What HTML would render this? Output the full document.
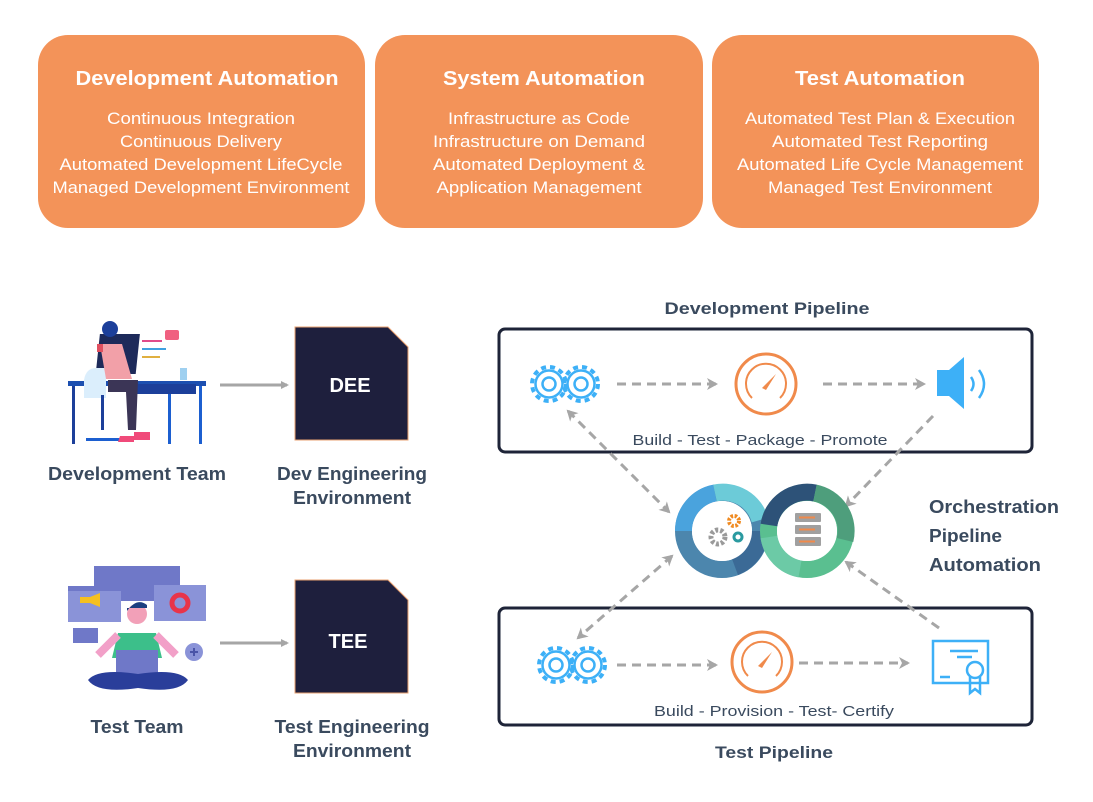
<!DOCTYPE html>
<html><head><meta charset="utf-8"><style>
html,body{margin:0;padding:0;background:#fff;}
svg{display:block;font-family:"Liberation Sans",sans-serif;}
</style></head><body>
<svg width="1093" height="802" viewBox="0 0 1093 802" xmlns="http://www.w3.org/2000/svg">
<defs>
<marker id="ag" markerWidth="8" markerHeight="8" refX="6" refY="4" orient="auto" markerUnits="userSpaceOnUse"><path d="M0,0 L8,4 L0,8 Z" fill="#a6a6a6"/></marker>
<marker id="ags" markerWidth="12" markerHeight="12" refX="9" refY="6" orient="auto-start-reverse" markerUnits="userSpaceOnUse"><path d="M0,0 L11,6 L0,12 L3,6 Z" fill="#a6a6a6"/></marker>
</defs>
<g fill="#F39359">
<rect x="38" y="35" width="327" height="193" rx="30"/>
<rect x="375" y="35" width="328" height="193" rx="30"/>
<rect x="712" y="35" width="327" height="193" rx="30"/>
</g>
<g fill="#fff" text-anchor="middle">
<text x="207" y="85" font-size="20" font-weight="bold" textLength="263" lengthAdjust="spacingAndGlyphs">Development Automation</text>
<text x="544" y="85" font-size="20" font-weight="bold" textLength="202" lengthAdjust="spacingAndGlyphs">System Automation</text>
<text x="880" y="85" font-size="20" font-weight="bold" textLength="170" lengthAdjust="spacingAndGlyphs">Test Automation</text>
<g font-size="17">
<text x="201" y="124" textLength="188" lengthAdjust="spacingAndGlyphs">Continuous Integration</text>
<text x="201" y="147" textLength="162" lengthAdjust="spacingAndGlyphs">Continuous Delivery</text>
<text x="201" y="170" textLength="283" lengthAdjust="spacingAndGlyphs">Automated Development LifeCycle</text>
<text x="201" y="193" textLength="297" lengthAdjust="spacingAndGlyphs">Managed Development Environment</text>
<text x="539" y="124" textLength="182" lengthAdjust="spacingAndGlyphs">Infrastructure as Code</text>
<text x="539" y="147" textLength="212" lengthAdjust="spacingAndGlyphs">Infrastructure on Demand</text>
<text x="539" y="170" textLength="212" lengthAdjust="spacingAndGlyphs">Automated Deployment &amp;</text>
<text x="539" y="193" textLength="205" lengthAdjust="spacingAndGlyphs">Application Management</text>
<text x="880" y="124" textLength="270" lengthAdjust="spacingAndGlyphs">Automated Test Plan &amp; Execution</text>
<text x="880" y="147" textLength="216" lengthAdjust="spacingAndGlyphs">Automated Test Reporting</text>
<text x="880" y="170" textLength="286" lengthAdjust="spacingAndGlyphs">Automated Life Cycle Management</text>
<text x="880" y="193" textLength="224" lengthAdjust="spacingAndGlyphs">Managed Test Environment</text>
</g></g>

<g>
<rect x="68" y="381" width="138" height="5" fill="#1c4fb0"/>
<rect x="72" y="386" width="3" height="58" fill="#1c3f9a"/>
<rect x="168" y="386" width="3" height="58" fill="#1c5fd0"/>
<rect x="199" y="386" width="3" height="58" fill="#1c5fd0"/>
<rect x="136" y="384" width="60" height="10" fill="#1c3f9a"/>
<rect x="135" y="334" width="40" height="40" fill="#1d2a5a" transform="skewX(-6)"/>
<rect x="142" y="340" width="20" height="2" fill="#e04c8a"/><rect x="142" y="348" width="24" height="2" fill="#3fa0e0"/><rect x="142" y="356" width="18" height="2" fill="#e0b040"/>
<rect x="165" y="330" width="14" height="10" rx="2" fill="#f06080"/>
<rect x="180" y="368" width="7" height="12" fill="#9fd0f0"/>
<path d="M84,380 q2,-12 12,-12 h10 v30 h-22z" fill="#dbeefc"/>
<rect x="101" y="395" width="3" height="35" fill="#1c3f9a"/>
<rect x="86" y="438" width="35" height="3" fill="#1c5fd0"/>
<circle cx="110" cy="329" r="8" fill="#1c3f9a"/>
<path d="M100,344 h22 l10,35 h-26z" fill="#f2a0a8"/>
<path d="M108,380 h30 l-2,50 h-8 l-2,-38 h-18z" fill="#3b3556"/>
<path d="M120,436 h14 v6 h-16z" fill="#f04a7a"/>
<path d="M134,432 h16 v8 h-16z" fill="#f04a7a"/>
<path d="M97,344 h6 v8 h-6z" fill="#e05060"/>
</g>
<g>
<rect x="94" y="566" width="86" height="35" fill="#6f78c8"/>
<rect x="68" y="586" width="53" height="36" fill="#8a93d8"/>
<rect x="68" y="586" width="53" height="5" fill="#6f78c8"/>
<path d="M80,597 h10 l10,-4 v14 l-10,-4 h-10z" fill="#f5c020"/>
<rect x="154" y="585" width="52" height="36" fill="#8a93d8"/>
<circle cx="180" cy="603" r="8" fill="none" stroke="#e8344a" stroke-width="5"/>
<rect x="73" y="628" width="25" height="15" fill="#6f78c8"/>
<circle cx="194" cy="652" r="9" fill="#8a93d8"/>
<path d="M190,652 h8 M194,648 v8" stroke="#4a54a8" stroke-width="2"/>
<circle cx="137" cy="614" r="10" fill="#f2a0b8"/>
<path d="M127,611 q10,-14 20,-6 v3 h-20z" fill="#1c3f80"/>
<path d="M118,633 h38 l6,25 h-50z" fill="#3cbf8a"/>
<path d="M98,655 l20,-20 M176,655 l-20,-20" stroke="#f2a0c8" stroke-width="8"/>
<rect x="116" y="650" width="42" height="28" fill="#6f78c8"/>
<path d="M88,680 q10,-12 50,-6 q40,-6 50,6 q-10,14 -50,8 q-40,6 -50,-8z" fill="#2a3e9a"/>
</g>
<g font-weight="bold" fill="#3a4a5e" font-size="18" text-anchor="middle">
<text x="137" y="480" textLength="178" lengthAdjust="spacingAndGlyphs">Development Team</text>
<text x="352" y="480" textLength="150" lengthAdjust="spacingAndGlyphs">Dev Engineering</text>
<text x="352" y="504" textLength="118" lengthAdjust="spacingAndGlyphs">Environment</text>
<text x="137" y="733" textLength="93" lengthAdjust="spacingAndGlyphs">Test Team</text>
<text x="352" y="733" textLength="155" lengthAdjust="spacingAndGlyphs">Test Engineering</text>
<text x="352" y="757" textLength="118" lengthAdjust="spacingAndGlyphs">Environment</text>
</g>
<path d="M295,327 H388 L408,347 V440 H295Z" fill="#1E1F3D" stroke="#e8a070" stroke-width="1"/>
<path d="M295,580 H388 L408,600 V693 H295Z" fill="#1E1F3D" stroke="#e8a070" stroke-width="1"/>
<text x="350" y="392" fill="#fff" font-size="20" font-weight="bold" text-anchor="middle">DEE</text>
<text x="348" y="648" fill="#fff" font-size="20" font-weight="bold" text-anchor="middle">TEE</text>
<g stroke="#a6a6a6" stroke-width="3" marker-end="url(#ag)">
<line x1="220" y1="385" x2="287" y2="385"/>
<line x1="220" y1="643" x2="287" y2="643"/>
</g>

<rect x="499" y="329" width="533" height="123" rx="6" fill="none" stroke="#1e2438" stroke-width="3"/>
<rect x="499" y="608" width="533" height="117" rx="6" fill="none" stroke="#1e2438" stroke-width="3"/>
<text x="767" y="314" font-size="17" font-weight="bold" fill="#3a4a5e" text-anchor="middle" textLength="205" lengthAdjust="spacingAndGlyphs">Development Pipeline</text>
<text x="774" y="758" font-size="17" font-weight="bold" fill="#3a4a5e" text-anchor="middle" textLength="118" lengthAdjust="spacingAndGlyphs">Test Pipeline</text>
<text x="760" y="445" font-size="15" fill="#3a4a5e" text-anchor="middle" textLength="255" lengthAdjust="spacingAndGlyphs">Build - Test - Package - Promote</text>
<text x="774" y="716" font-size="15" fill="#3a4a5e" text-anchor="middle" textLength="240" lengthAdjust="spacingAndGlyphs">Build - Provision - Test- Certify</text>
<g font-size="18" font-weight="bold" fill="#3a4a5e">
<text x="929" y="513" textLength="130" lengthAdjust="spacingAndGlyphs">Orchestration</text>
<text x="929" y="542" textLength="73" lengthAdjust="spacingAndGlyphs">Pipeline</text>
<text x="929" y="571" textLength="112" lengthAdjust="spacingAndGlyphs">Automation</text>
</g>

<g fill="none" stroke="#3db0f7">
<g id="gears">
<circle cx="549" cy="384" r="17" stroke-width="4" stroke-dasharray="5 4"/>
<circle cx="549" cy="384" r="13.5" stroke-width="2.5"/>
<circle cx="549" cy="384" r="6.5" stroke-width="2.5"/>
<circle cx="581" cy="384" r="17" stroke-width="4" stroke-dasharray="5 4"/>
<circle cx="581" cy="384" r="13.5" stroke-width="2.5"/>
<circle cx="581" cy="384" r="6.5" stroke-width="2.5"/>
</g>
<use href="#gears" x="7" y="281"/>
</g>
<g fill="none" stroke="#F08A4B" stroke-width="3">
<circle cx="766" cy="384" r="30"/>
<path d="M752,398 A20,20 0 1 1 780,398" stroke-width="2"/>
<circle cx="762" cy="662" r="30"/>
<path d="M748,676 A20,20 0 1 1 776,676" stroke-width="2"/>
</g>
<path d="M762,388 L776,374 L766,390Z" fill="#F08A4B"/>
<path d="M758,666 L772,652 L762,668Z" fill="#F08A4B"/>
<path d="M937,370 h12 l15,-13 v52 l-15,-13 h-12z" fill="#3db0f7"/>
<path d="M971,377 q5,7 0,14 M979,370 q10,14 0,28" fill="none" stroke="#3db0f7" stroke-width="2.5"/>
<g fill="none" stroke="#3db0f7" stroke-width="2.5">
<rect x="933" y="641" width="55" height="42"/>
<path d="M950,651 h28 M957,657 h15 M940,677 h10"/>
<circle cx="975" cy="670" r="8" fill="#fff"/>
<path d="M970,677 v16 l5,-4 l5,4 v-16"/>
</g>
<g stroke="#a6a6a6" stroke-width="3" stroke-dasharray="9 6" fill="none">
<line x1="617" y1="384" x2="716" y2="384" marker-end="url(#ags)"/>
<line x1="823" y1="384" x2="924" y2="384" marker-end="url(#ags)"/>
<line x1="617" y1="665" x2="716" y2="665" marker-end="url(#ags)"/>
<line x1="799" y1="663" x2="908" y2="663" marker-end="url(#ags)"/>
<line x1="568" y1="411" x2="669" y2="512" marker-start="url(#ags)" marker-end="url(#ags)"/>
<line x1="933" y1="416" x2="846" y2="506" marker-end="url(#ags)"/>
<line x1="672" y1="556" x2="578" y2="638" marker-start="url(#ags)" marker-end="url(#ags)"/>
<line x1="939" y1="628" x2="846" y2="562" marker-end="url(#ags)"/>
</g>
<g fill="none" stroke-width="17">
<circle cx="722" cy="531" r="38.5" stroke="#4c86ad"/>
<path d="M683.5,531 A38.5,38.5 0 0 1 715,493" stroke="#4aa3dd"/>
<path d="M715,493 A38.5,38.5 0 0 1 760,520" stroke="#6ccbd8"/>
<path d="M760,531 A38.5,38.5 0 0 1 735,567" stroke="#3b6a96"/>
<circle cx="807" cy="531" r="38.5" stroke="#5abf90"/>
<path d="M769,525 A38.5,38.5 0 0 1 815,493" stroke="#2d5278"/>
<path d="M815,493 A38.5,38.5 0 0 1 845,540" stroke="#4e9e7c"/>
<path d="M769,537 A38.5,38.5 0 0 0 800,569" stroke="#6ccaa6"/>
</g>
<circle cx="722" cy="531" r="30" fill="#fff"/>
<circle cx="807" cy="531" r="30" fill="#fff"/>
<circle cx="718" cy="537" r="7" fill="none" stroke="#9a9a9a" stroke-width="5" stroke-dasharray="3 2"/>
<circle cx="734" cy="521" r="5" fill="none" stroke="#f08a20" stroke-width="4" stroke-dasharray="2.5 1.5"/>
<circle cx="738" cy="537" r="4" fill="none" stroke="#2a9aa0" stroke-width="3"/>
<g fill="#a0a0a0"><rect x="795" y="513" width="26" height="9" rx="1"/><rect x="795" y="525" width="26" height="9" rx="1"/><rect x="795" y="537" width="26" height="9" rx="1"/></g>
<g stroke="#F08A4B" stroke-width="2"><line x1="799" y1="517.5" x2="815" y2="517.5"/><line x1="799" y1="529.5" x2="815" y2="529.5"/><line x1="799" y1="541.5" x2="815" y2="541.5"/></g>
</svg>
</body></html>
